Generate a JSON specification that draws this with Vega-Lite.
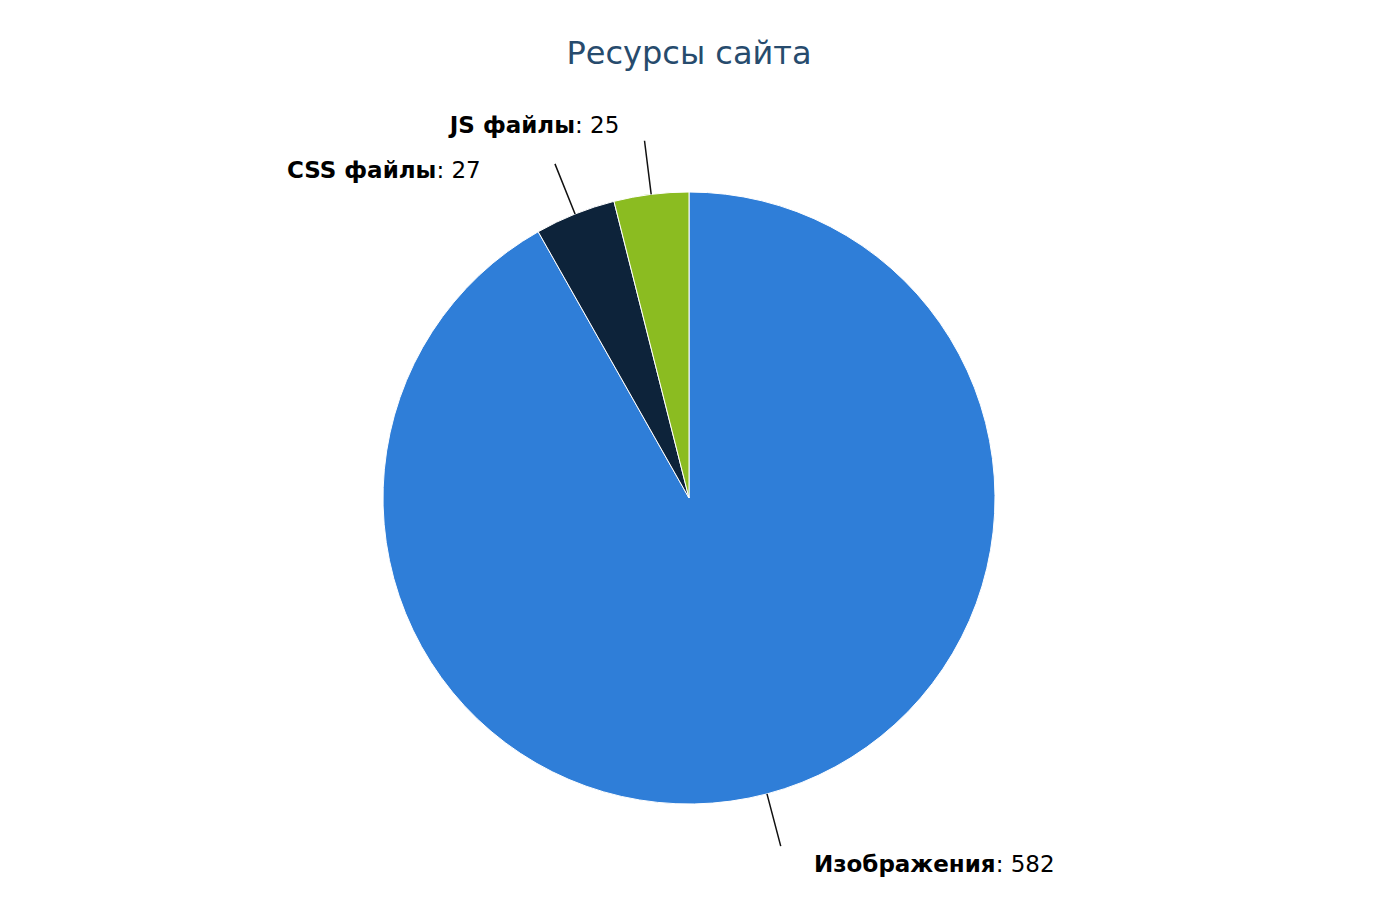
{
  "$schema": "https://vega.github.io/schema/vega-lite/v6.json",
  "width": 1378,
  "height": 836,
  "autosize": "none",
  "padding": {"left": 0, "top": 80, "right": 3, "bottom": 3},
  "background": "#ffffff",
  "title": {"text": "Ресурсы сайта", "font": "DejaVu Sans", "fontSize": 32, "fontWeight": "normal", "color": "#274b6d", "anchor": "middle", "offset": 9},
  "config": {"view": {"stroke": null}},
  "data": {"values": [
    {"name": "Изображения", "value": 582, "idx": 0},
    {"name": "CSS файлы", "value": 27, "idx": 1},
    {"name": "JS файлы", "value": 25, "idx": 2}
  ]},
  "transform": [
    {"window": [{"op": "sum", "field": "value", "as": "cum"}], "sort": [{"field": "idx", "order": "ascending"}], "frame": [null, 0]},
    {"calculate": "datum.cum - datum.value / 2", "as": "midv"},
    {"calculate": "': ' + datum.value", "as": "lbl"}
  ],
  "layer": [
    {
      "mark": {"type": "arc", "outerRadius": 306, "stroke": "#ffffff", "strokeWidth": 1},
      "encoding": {
        "theta": {"field": "value", "type": "quantitative", "stack": true},
        "order": {"field": "idx", "type": "quantitative", "sort": "ascending"},
        "color": {"field": "name", "type": "nominal", "scale": {"domain": ["Изображения", "CSS файлы", "JS файлы"], "range": ["#2f7ed8", "#0d233a", "#8bbc21"]}, "legend": null}
      }
    },
    {
      "mark": {"type": "arc", "innerRadius": 306, "outerRadius": 360, "stroke": "#111111", "strokeWidth": 1.5, "fill": null},
      "encoding": {
        "theta": {"field": "midv", "type": "quantitative", "stack": null},
        "theta2": {"field": "midv"}
      }
    },
    {
      "transform": [{"filter": "datum.name === 'JS файлы'"}],
      "mark": {"type": "text", "align": "right", "baseline": "middle", "font": "DejaVu Sans", "fontWeight": "bold", "fontSize": 23, "color": "#000000", "dx": -72, "dy": -35},
      "encoding": {"theta": {"field": "midv", "type": "quantitative", "stack": null}, "radius": {"value": 340}, "text": {"field": "name"}}
    },
    {
      "transform": [{"filter": "datum.name === 'JS файлы'"}],
      "mark": {"type": "text", "align": "left", "baseline": "middle", "font": "DejaVu Sans", "fontWeight": "normal", "fontSize": 23, "color": "#000000", "dx": -72, "dy": -35},
      "encoding": {"theta": {"field": "midv", "type": "quantitative", "stack": null}, "radius": {"value": 340}, "text": {"field": "lbl"}}
    },
    {
      "transform": [{"filter": "datum.name === 'CSS файлы'"}],
      "mark": {"type": "text", "align": "right", "baseline": "middle", "font": "DejaVu Sans", "fontWeight": "bold", "fontSize": 23, "color": "#000000", "dx": -126, "dy": -11},
      "encoding": {"theta": {"field": "midv", "type": "quantitative", "stack": null}, "radius": {"value": 340}, "text": {"field": "name"}}
    },
    {
      "transform": [{"filter": "datum.name === 'CSS файлы'"}],
      "mark": {"type": "text", "align": "left", "baseline": "middle", "font": "DejaVu Sans", "fontWeight": "normal", "fontSize": 23, "color": "#000000", "dx": -126, "dy": -11},
      "encoding": {"theta": {"field": "midv", "type": "quantitative", "stack": null}, "radius": {"value": 340}, "text": {"field": "lbl"}}
    },
    {
      "transform": [{"filter": "datum.name === 'Изображения'"}],
      "mark": {"type": "text", "align": "right", "baseline": "middle", "font": "DejaVu Sans", "fontWeight": "bold", "fontSize": 23, "color": "#000000", "dx": 220, "dy": 38},
      "encoding": {"theta": {"field": "midv", "type": "quantitative", "stack": null}, "radius": {"value": 340}, "text": {"field": "name"}}
    },
    {
      "transform": [{"filter": "datum.name === 'Изображения'"}],
      "mark": {"type": "text", "align": "left", "baseline": "middle", "font": "DejaVu Sans", "fontWeight": "normal", "fontSize": 23, "color": "#000000", "dx": 220, "dy": 38},
      "encoding": {"theta": {"field": "midv", "type": "quantitative", "stack": null}, "radius": {"value": 340}, "text": {"field": "lbl"}}
    }
  ]
}
